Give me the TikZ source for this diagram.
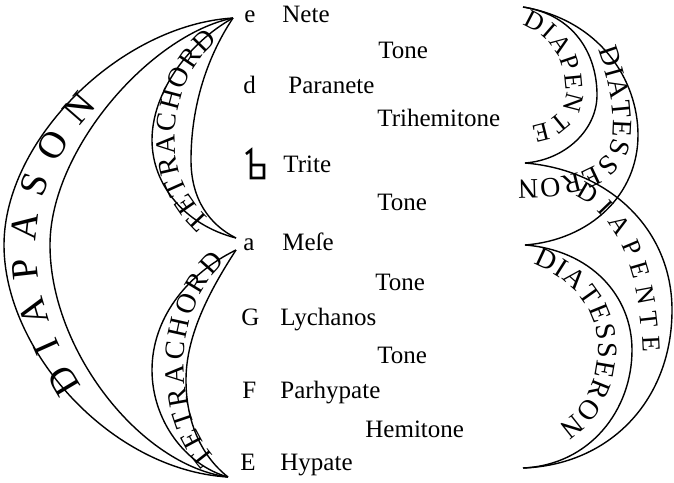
\documentclass[tikz,border=0pt]{standalone}
\usepackage{fontspec}
\setmainfont{Liberation Serif}
\usetikzlibrary{decorations.text}

\begin{document}
\begin{tikzpicture}[x=0.5pt, y=0.5pt,
  note/.style={anchor=base west, inner sep=0pt, font=\fontsize{12.5}{14}\selectfont},
  crescent/.style={line width=0.7pt},
  glyph/.style={line width=1.3pt},
  bandtext/.style={decorate, decoration={text along path, text align={fit to path}, text={|\fontsize{14}{16}\selectfont|#1}}},
  midtext/.style={decorate, decoration={text along path, text align={fit to path}, text={|\fontsize{13}{15}\selectfont|#1}}},
  bigtext/.style={decorate, decoration={text along path, text align={fit to path}, text={|\fontsize{19}{22}\selectfont|#1}}}]
\useasboundingbox (0,0) rectangle (674,-482);

\node[note] (e) at (244,-22) {e};
\node[note] (nete) at (282,-22) {Nete};
\node[note] (tone1) at (378,-58) {Tone};
\node[note] (d) at (243,-93) {d};
\node[note] (paranete) at (288,-93) {Paranete};
\node[note] (trihem) at (377,-126) {Trihemitone};
\node[note] (trite) at (283,-172) {Trite};
\node[note] (tone2) at (377,-210) {Tone};
\node[note] (a) at (243,-250) {a};
\node[note] (mese) at (282,-250) {Meſe};
\node[note] (tone3) at (375,-290) {Tone};
\node[note] (G) at (241,-325) {G};
\node[note] (lychanos) at (280,-325) {Lychanos};
\node[note] (tone4) at (377,-363) {Tone};
\node[note] (F) at (242,-398) {F};
\node[note] (parhypate) at (280,-398) {Parhypate};
\node[note] (hemi) at (365,-437) {Hemitone};
\node[note] (E) at (240,-470) {E};
\node[note] (hypate) at (280,-470) {Hypate};

% b quadratum
\draw[glyph] (246,-154) -- (251,-150) -- (251,-178) -- (264,-178) -- (264,-165) -- (251,-165);

\coordinate (te) at (233,-18);
\coordinate (ta1) at (236,-238);
\coordinate (ta2) at (236,-250);
\coordinate (tE) at (228,-477);
\coordinate (r1) at (523,-7);
\coordinate (r2) at (525,-163);
\coordinate (r3) at (525,-245);
\coordinate (r4) at (523,-468);

\draw[crescent] (te) .. controls (120,-25) and (4,-140) .. (4,-245) .. controls (4,-350) and (110,-470) .. (tE);
\draw[crescent] (te) .. controls (150,-35) and (50,-150) .. (50,-245) .. controls (50,-350) and (140,-465) .. (tE);
\draw[crescent] (te) .. controls (185,-45) and (152,-95) .. (152,-140) .. controls (152,-185) and (185,-225) .. (ta1);
\draw[crescent] (te) .. controls (205,-60) and (191,-110) .. (191,-160) .. controls (191,-200) and (210,-225) .. (ta1);
\draw[crescent] (ta2) .. controls (185,-275) and (152,-320) .. (152,-370) .. controls (152,-420) and (185,-465) .. (tE);
\draw[crescent] (ta2) .. controls (210,-290) and (186,-335) .. (186,-380) .. controls (186,-420) and (200,-455) .. (tE);

\draw[crescent] (r1) .. controls (575,-15) and (597,-55) .. (597,-95) .. controls (597,-130) and (565,-160) .. (r2);
\draw[crescent] (r1) .. controls (600,-20) and (638,-80) .. (638,-135) .. controls (638,-195) and (590,-240) .. (r3);
\draw[crescent] (r2) .. controls (610,-170) and (672,-230) .. (672,-310) .. controls (672,-400) and (610,-465) .. (r4);
\draw[crescent] (r3) .. controls (590,-250) and (632,-295) .. (632,-350) .. controls (632,-410) and (590,-465) .. (r4);

\path[bigtext=DIAPASON] (82,-386) .. controls (52,-340) and (36,-292) .. (36,-245) .. controls (36,-196) and (60,-145) .. (98,-106);
\path[bandtext=TETRACHORD] (211,-220) .. controls (186,-197) and (175,-170) .. (175,-140) .. controls (175,-100) and (190,-64) .. (218,-40);
\path[bandtext=TETRACHORD] (216,-458) .. controls (193,-433) and (184,-400) .. (184,-368) .. controls (184,-330) and (195,-290) .. (225,-262);
\path[midtext=DIAPENTE] (522,-25) .. controls (550,-35) and (566,-60) .. (566,-90) .. controls (566,-111) and (554,-123) .. (531,-126);
\path[bandtext=DIATESSERON] (598,-50) .. controls (611,-85) and (616,-115) .. (612,-140) .. controls (607,-166) and (578,-180) .. (518,-180);
\path[midtext=DIAPENTE] (575,-196) .. controls (610,-210) and (640,-260) .. (643,-352);
\path[bandtext=DIATESSERON] (533,-264) .. controls (575,-280) and (598,-310) .. (598,-350) .. controls (598,-383) and (584,-410) .. (558,-426);
\end{tikzpicture}
\end{document}
